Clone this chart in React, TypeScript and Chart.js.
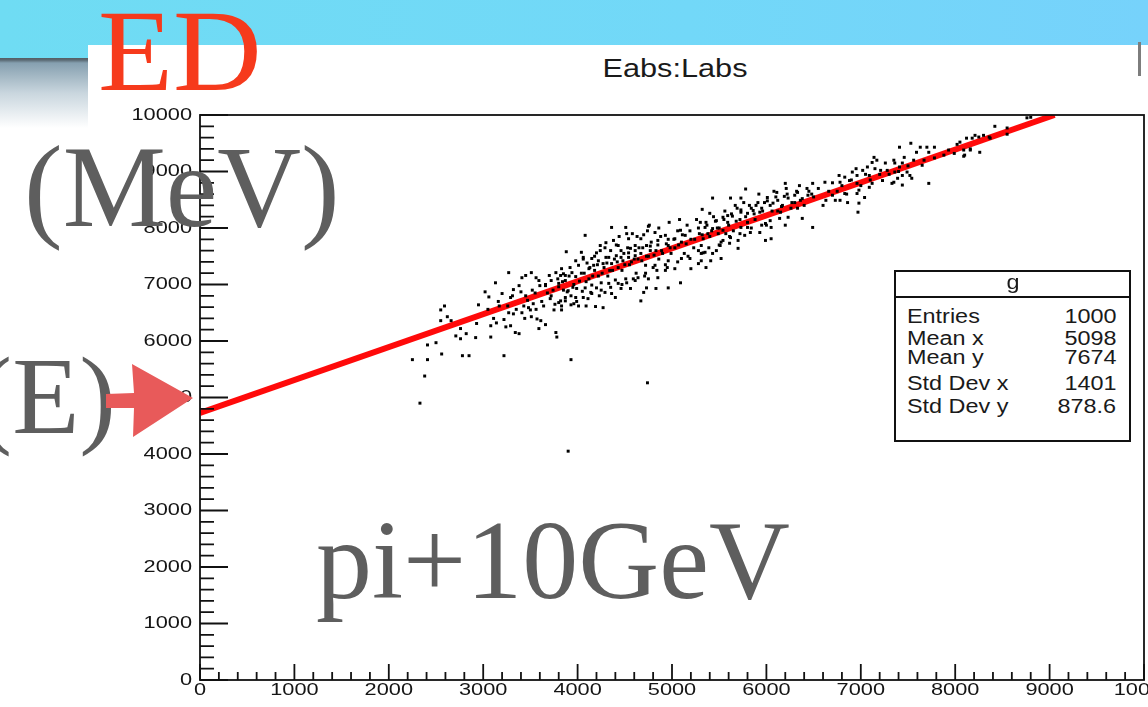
import React, { useEffect, useRef } from "react";
import { Chart, registerables } from "chart.js";

Chart.register(...registerables);

// Eabs (y, MeV) versus Labs (x) for 10 GeV pi+ events, as [Labs, Eabs]
const tailPoints: number[][] = [
  [2250, 5670], [2410, 5670], [2380, 5380], [2330, 4900], [2560, 5770], [2500, 5970],
  [2410, 5930], [2780, 5740], [2850, 5740], [3220, 5740], [3930, 5670], [3900, 4050],
  [4740, 5260],
];

const coreLeftPoints: number[][] = [
  [2590, 6620], [2550, 6550], [2620, 6430], [2550, 6360], [2660, 6360], [2760, 6220],
  [2820, 6130], [2710, 6090], [2760, 6040], [2920, 6060], [2930, 6310], [2950, 6640],
  [3020, 6870], [3060, 6780], [3130, 7030], [3080, 6270], [3080, 6070], [3140, 6320],
  [3170, 6620], [3200, 6840], [3240, 6250], [3290, 6270], [3340, 6150], [3380, 6130],
  [3270, 6500], [3320, 6480], [3290, 6770], [3320, 6910], [3380, 6980], [3270, 7210],
  [3410, 7120], [3450, 7160], [3410, 6500], [3430, 6620], [3480, 6590], [3530, 6660],
  [3510, 6430], [3570, 6390], [3610, 6360], [3590, 6220], [3660, 6290], [3770, 6150],
  [3780, 6070], [3750, 6550], [3710, 6750], [3830, 6550], [3800, 6680], [3870, 6710],
  [3930, 6800], [3960, 6660], [3660, 6980], [3720, 7070], [3800, 7020], [3870, 7070],
  [3590, 7070], [3560, 7120], [3510, 7210], [3770, 7210], [3850, 7190],
  [3050, 6560], [3110, 6400], [3160, 6700], [3220, 6380], [3260, 6620], [3310, 6800],
  [3350, 6560], [3400, 6870], [3440, 6400], [3470, 6720], [3520, 6900], [3560, 6560],
  [3600, 6980], [3640, 6620], [3680, 6850], [3700, 7160], [3740, 6900], [3760, 6650],
  [3800, 6960], [3840, 7050], [3890, 6870], [3920, 7300], [3950, 6950], [3980, 7140],
  [3990, 6700], [3450, 6800], [3500, 6550], [3550, 6850], [3620, 6700], [3660, 7000],
  [3720, 6800], [3790, 7100], [3850, 6900], [3910, 7150], [3960, 7000],
];

const coreMidPoints: number[][] = [
  [3830, 6620], [3930, 6640], [4010, 6620], [4090, 6620], [4190, 6610], [4270, 6590],
  [4360, 6840], [4400, 6770], [4460, 6930], [4560, 6930], [4670, 6710], [4700, 6860],
  [4730, 6940], [4830, 6930], [4960, 6940], [5090, 7030], [4610, 7070], [4640, 7120],
  [4520, 7030], [4430, 7020], [4330, 7020], [4250, 7030], [4200, 6940], [4140, 6860],
  [4060, 6770], [3980, 6770], [3870, 6770], [3900, 6890], [3990, 6930], [4080, 6940],
  [4150, 6840], [4290, 6860], [4750, 7100], [4850, 7120], [4930, 7250], [5030, 7280],
  [5200, 7280], [5280, 7370], [5190, 7460], [5310, 7550], [5100, 7460], [4960, 7420],
  [4820, 7340], [4720, 7340], [4080, 7870], [3880, 7580], [4040, 7570], [4060, 7480],
  [3980, 7420], [4150, 7460], [4240, 7600], [4240, 7690], [4300, 7740], [4380, 7780],
  [4430, 7690], [4460, 7600], [4540, 7810], [4560, 7640], [4610, 7690], [4670, 7810],
  [4730, 7690], [4770, 7600], [4820, 7920], [4850, 7780], [4930, 7870], [4960, 7690],
  [5030, 7810], [5090, 7960], [5140, 7870], [4360, 8010], [4510, 8010], [4750, 8030],
  [3830, 7280], [3870, 7160], [3940, 7210], [4010, 7340], [4120, 7280], [4170, 7340],
  [4220, 7420], [4270, 7370], [4330, 7480], [4360, 7370], [4410, 7510], [4480, 7420],
  [4540, 7480], [4610, 7510], [4670, 7550], [3820, 7160], [3820, 6710], [4760, 8050],
  [4020, 7060], [4050, 6880], [4070, 7200], [4100, 7380], [4120, 7100], [4150, 6990],
  [4180, 7250], [4200, 7560], [4220, 7150], [4250, 6900], [4280, 7300], [4300, 7480],
  [4320, 7150], [4350, 7600], [4370, 7250], [4400, 7080], [4420, 7400], [4440, 7850],
  [4470, 7250], [4490, 7550], [4510, 7100], [4530, 7650], [4550, 7350], [4580, 7900],
  [4600, 7450], [4620, 7200], [4650, 7650], [4680, 7420], [4700, 7880], [4720, 7200],
  [4750, 7500], [4780, 7750], [4800, 7300], [4830, 7600], [4860, 7450], [4880, 7850],
  [4900, 7550], [4930, 7350], [4960, 7800], [4990, 7550],
  [4040, 7200], [4090, 7050], [4130, 7300], [4160, 7150], [4210, 7350], [4260, 7200],
  [4310, 7380], [4340, 7250], [4390, 7450], [4430, 7300], [4460, 7480], [4500, 7350],
  [4540, 7560], [4570, 7400], [4610, 7600], [4640, 7450], [4690, 7650], [4730, 7500],
  [4770, 7680], [4810, 7520], [4850, 7700], [4890, 7600], [4940, 7720], [4980, 7650],
  [4060, 7450], [4180, 7500], [4290, 7650], [4410, 7700], [4520, 7900], [4630, 7850],
  [4740, 7950], [4860, 8000], [4970, 8100], [4110, 6750], [4230, 6800], [4350, 6950],
  [4470, 7000], [4590, 7100], [4710, 7150], [4840, 7250], [4950, 7300],
];

const coreRightPoints: number[][] = [
  [5430, 8530], [5620, 8530], [5730, 8530], [5780, 8690], [5320, 8330], [5400, 8260],
  [5470, 8130], [5540, 8190], [5590, 8220], [5640, 8210], [5670, 8400], [5730, 8280],
  [5800, 8260], [5860, 8310], [5890, 8400], [5930, 8280], [5980, 8450], [6010, 8540],
  [6070, 8440], [6120, 8490], [6110, 8630], [6190, 8560], [6230, 8530], [6200, 8790],
  [6300, 8580], [6330, 8630], [6360, 8490], [6440, 8580], [6490, 8790], [6620, 8810],
  [6630, 8490], [6700, 8580], [6730, 8490], [6780, 8490], [6830, 8610], [6490, 8010],
  [6380, 8170], [6230, 8190], [6140, 8170], [6040, 8130], [6050, 8010], [5990, 7780],
  [6050, 7810], [5930, 7920], [5830, 7920], [5800, 8010], [5730, 8010], [5770, 7870],
  [5700, 7780], [5700, 7640], [5620, 7830], [5610, 7730], [5540, 7780], [5510, 7690],
  [5470, 7600], [5430, 7550], [5350, 7570], [5310, 7690], [5330, 7810], [5380, 7900],
  [5430, 7990], [5490, 7900], [5540, 7960], [5350, 8010], [5300, 8100], [5310, 7420],
  [5360, 7300], [5410, 7420], [5520, 7460], [5570, 7900], [5990, 8080], [6150, 8280],
  [6330, 8350], [6200, 8050],
  [5030, 7650], [5060, 7950], [5100, 7750], [5130, 7550], [5160, 8050], [5200, 7800],
  [5230, 7650], [5260, 8150], [5290, 7900], [5330, 7560], [5360, 8100], [5400, 7850],
  [5440, 8200], [5480, 8000], [5520, 7750], [5560, 8300], [5600, 8050], [5650, 7950],
  [5690, 8350], [5720, 8150], [5760, 8450], [5800, 8100], [5840, 8350], [5880, 8150],
  [5920, 8600], [5960, 8300], [6000, 8050], [6040, 8400], [6080, 8650], [6120, 8300],
  [6170, 8400], [6210, 8700], [6260, 8350], [6300, 8450], [6350, 8750], [6400, 8400],
  [6450, 8650], [6500, 8550],
  [5020, 7800], [5070, 7700], [5110, 7880], [5150, 7720], [5190, 7950], [5240, 7800],
  [5280, 8000], [5320, 7880], [5370, 8050], [5420, 7950], [5460, 8120], [5500, 8000],
  [5550, 8150], [5590, 8100], [5630, 8250], [5680, 8120], [5730, 8320], [5780, 8200],
  [5820, 8400], [5870, 8250], [5910, 8450], [5950, 8350], [6010, 8480], [6060, 8300],
  [6100, 8550], [6160, 8380], [6220, 8600], [6270, 8450], [6320, 8650], [6380, 8520],
  [6430, 8700], [6480, 8600], [5080, 8150], [5060, 7400], [5170, 7500], [5280, 7600],
  [5390, 7650], [5500, 7700], [5610, 7850], [5720, 7900], [5840, 8000], [5950, 8050],
];

const upperPoints: number[][] = [
  [7410, 9430], [7530, 9500], [7630, 9430], [7700, 9430], [7780, 9430], [7590, 9340],
  [7720, 9340], [7140, 9250], [7170, 9200], [7120, 9160], [7360, 9150], [7440, 9150],
  [7410, 9080], [7070, 9080], [7020, 9020], [6960, 8930], [6910, 8990], [6830, 8900],
  [6770, 8930], [6780, 8810], [6880, 8840], [6960, 8790], [7090, 8930], [7210, 9020],
  [7280, 9020], [7360, 8990], [7490, 8990], [7520, 8930], [7540, 8880], [7440, 8930],
  [7390, 8880], [7350, 8810], [7330, 8790], [7440, 8760], [7230, 8840], [7120, 8790],
  [7090, 8720], [6980, 8670], [6960, 8610], [7040, 8540], [6980, 8440], [6860, 8450],
  [6970, 8280], [7720, 8790], [7650, 9110], [7670, 9200], [7780, 9240], [7880, 9290],
  [7930, 9380], [7990, 9320], [8020, 9480], [8100, 9290], [8160, 9380], [8260, 9340],
  [8090, 9380], [8050, 9520], [8120, 9590], [8180, 9590], [8210, 9640], [8250, 9610],
  [8300, 9640], [8360, 9610], [8370, 9590], [8420, 9800], [8550, 9770], [8550, 9660],
  [8760, 9950], [8800, 9960], [8090, 9270], [8160, 9400],
  [6550, 8700], [6600, 8400], [6660, 8650], [6700, 8800], [6750, 8650], [6800, 8750],
  [6850, 8600], [6900, 8850], [6950, 9050], [7000, 8750], [7050, 8950], [7100, 8850],
  [7150, 9050], [7200, 8950], [7260, 9150], [7300, 8950], [7350, 9200], [7400, 9000],
  [7460, 9250], [7500, 9100], [7560, 9200],
];

// straight-line fit drawn across the frame
const fitLabs = [0, 9052];
const fitEabs = [4726, 10000];

// statistics box
const statTitle = "g";
const statNames = ["Entries", "Mean x", "Mean y", "Std Dev x", "Std Dev y"];
const statValues = ["1000", "5098", "7674", "1401", "878.6"];

const W = 1148;
const H = 707;
const SANS = '"Liberation Sans", Arial, Helvetica, sans-serif';
const SERIF = '"Liberation Serif", "Times New Roman", Times, serif';
const SANS_ASC = 0.8465;
const SERIF_ASC = 0.8375;

type LabelProps = {
  text: string;
  x: number;
  base: number;
  size: number;
  family: string;
  asc: number;
  color: string;
  align?: "left" | "right" | "center";
  sx?: number;
};

function Label({ text, x, base, size, family, asc, color, align = "left", sx = 1 }: LabelProps) {
  const style: React.CSSProperties = {
    position: "absolute",
    top: base - asc * size,
    fontSize: size,
    lineHeight: `${size}px`,
    fontFamily: family,
    color,
    whiteSpace: "nowrap",
    transform: `scaleX(${sx})`,
  };
  if (align === "left") {
    style.left = x;
    style.transformOrigin = "left top";
  } else if (align === "right") {
    style.right = W - x;
    style.transformOrigin = "right top";
  } else {
    style.left = x - 400;
    style.width = 800;
    style.textAlign = "center";
    style.transformOrigin = "center top";
  }
  return <div style={style}>{text}</div>;
}

// frame, inward ticks and stretched tick labels in the ROOT style
const rootAxesPlugin = {
  id: "rootAxes",
  afterDraw(chart: any) {
    const { ctx, chartArea: a } = chart;
    const xs = chart.scales.x;
    const ys = chart.scales.y;
    ctx.save();
    ctx.strokeStyle = "#111";
    ctx.lineWidth = 1.8;
    ctx.strokeRect(a.left, a.top, a.right - a.left, a.bottom - a.top);
    ctx.lineWidth = 1.8;
    ctx.beginPath();
    for (let v = 0; v <= 10000; v += 200) {
      const major = v % 1000 === 0;
      const py = ys.getPixelForValue(v);
      ctx.moveTo(a.left, py);
      ctx.lineTo(a.left + (major ? 28 : 14), py);
      const px = xs.getPixelForValue(v);
      ctx.moveTo(px, a.bottom);
      ctx.lineTo(px, a.bottom - (major ? 16 : 8));
    }
    ctx.stroke();

    ctx.fillStyle = "#151515";
    ctx.font = `17px ${SANS}`;
    ctx.textBaseline = "middle";
    ys.ticks.forEach((t: any) => {
      const py = ys.getPixelForValue(t.value);
      ctx.save();
      ctx.translate(a.left - 8, py);
      ctx.scale(1.28, 1);
      ctx.textAlign = "right";
      ctx.fillText(String(t.value), 0, 0);
      ctx.restore();
    });
    xs.ticks.forEach((t: any) => {
      const px = xs.getPixelForValue(t.value);
      ctx.save();
      ctx.translate(px, a.bottom + 10);
      ctx.scale(1.28, 1);
      ctx.textAlign = "center";
      ctx.fillText(String(t.value), 0, 0);
      ctx.restore();
    });
    ctx.restore();
  },
};

function toXY(list: number[][]) {
  return list.map(([x, y]) => ({ x, y }));
}

function ScatterPlot() {
  const ref = useRef<HTMLCanvasElement | null>(null);

  useEffect(() => {
    if (!ref.current) return;
    const events = [
      ...toXY(tailPoints),
      ...toXY(coreLeftPoints),
      ...toXY(coreMidPoints),
      ...toXY(coreRightPoints),
      ...toXY(upperPoints),
    ];
    const fit = fitLabs.map((x, i) => ({ x, y: fitEabs[i] }));

    const chart = new Chart(ref.current, {
      type: "scatter",
      data: {
        datasets: [
          {
            label: "Eabs:Labs",
            data: events,
            pointStyle: "rect",
            pointRadius: 2.1,
            pointBorderWidth: 0,
            pointBackgroundColor: "#000",
            borderWidth: 0,
          },
          {
            label: "fit",
            data: fit,
            showLine: true,
            borderColor: "#ff0a0a",
            borderWidth: 6,
            pointRadius: 0,
            clip: 0,
          } as any,
        ],
      },
      options: {
        responsive: false,
        maintainAspectRatio: false,
        animation: false,
        events: [],
        layout: { padding: { left: 0, top: 115, right: 3, bottom: 0 } },
        plugins: {
          legend: { display: false },
          title: { display: false },
          tooltip: { enabled: false },
        },
        scales: {
          x: {
            type: "linear",
            min: 0,
            max: 10000,
            ticks: { display: false, stepSize: 1000 },
            grid: { display: false },
            border: { display: false },
            afterFit(s: any) {
              s.height = 27;
              s.paddingLeft = 0;
              s.paddingRight = 0;
            },
          },
          y: {
            type: "linear",
            min: 0,
            max: 10000,
            ticks: { display: false, stepSize: 1000 },
            grid: { display: false },
            border: { display: false },
            afterFit(s: any) {
              s.width = 200;
              s.paddingTop = 0;
              s.paddingBottom = 0;
            },
          },
        },
      },
      plugins: [rootAxesPlugin],
    });
    return () => chart.destroy();
  }, []);

  return (
    <canvas
      ref={ref}
      width={W}
      height={H}
      style={{ position: "absolute", left: 0, top: 0, width: W, height: H, display: "block" }}
    />
  );
}

function StatsBox() {
  const left = 894;
  const top = 270;
  const right = 1131;
  const bottom = 442;
  const rowBase = [323, 345, 364, 390, 413];
  return (
    <>
      <div
        style={{
          position: "absolute",
          left,
          top,
          width: right - left,
          height: bottom - top,
          boxSizing: "border-box",
          border: "2px solid #111",
          background: "#fff",
        }}
      />
      <div
        style={{ position: "absolute", left, top: 296, width: right - left, height: 2, background: "#111" }}
      />
      <Label text={statTitle} x={1013} base={289} size={20} family={SANS} asc={SANS_ASC} color="#1a1a1a" align="center" sx={1.17} />
      {statNames.map((n, i) => (
        <Label key={n} text={n} x={907} base={rowBase[i]} size={20} family={SANS} asc={SANS_ASC} color="#1a1a1a" sx={1.17} />
      ))}
      {statValues.map((v, i) => (
        <Label key={i} text={v} x={1116} base={rowBase[i]} size={20} family={SANS} asc={SANS_ASC} color="#1a1a1a" align="right" sx={1.17} />
      ))}
    </>
  );
}

export default function App() {
  const gray = "#5e5e5e";
  return (
    <div
      style={{
        position: "fixed",
        left: 0,
        top: 0,
        width: W,
        height: H,
        overflow: "hidden",
        background: "#fff",
      }}
    >
      {/* slide header band */}
      <div
        style={{
          position: "absolute",
          left: 0,
          top: 0,
          width: W,
          height: 58,
          background: "linear-gradient(90deg, #6fdcf3 0%, #72d8f8 60%, #76d2fb 100%)",
        }}
      />
      <div
        style={{
          position: "absolute",
          left: 0,
          top: 58,
          width: 88,
          height: 70,
          background: "linear-gradient(180deg, #555d63 0px, #5a6a74 2px, #86a0b0 5px, #c9d6de 35px, #ffffff 70px)",
        }}
      />
      {/* plot panel */}
      <div style={{ position: "absolute", left: 88, top: 45, width: W - 88, height: H - 45, background: "#fff" }} />
      <div style={{ position: "absolute", left: 1138, top: 42, width: 3, height: 34, background: "#7d7d7d" }} />

      <Label text="Eabs:Labs" x={675} base={77} size={26} family={SANS} asc={SANS_ASC} color="#1a1a1a" align="center" sx={1.18} />

      <ScatterPlot />
      <StatsBox />

      {/* slide annotations */}
      <Label text="ED" x={98} base={90} size={116} family={SERIF} asc={SERIF_ASC} color="#f63a1c" sx={1.06} />
      <Label text="(MeV)" x={24} base={226} size={116} family={SERIF} asc={SERIF_ASC} color={gray} />
      <Label text="(E)" x={116} base={433} size={110} family={SERIF} asc={SERIF_ASC} color={gray} align="right" />
      <Label text="pi+10GeV" x={316} base={598} size={112} family={SERIF} asc={SERIF_ASC} color={gray} />
      <svg
        width={W}
        height={H}
        style={{ position: "absolute", left: 0, top: 0, pointerEvents: "none" }}
      >
        <path
          d="M106,394 L134,393 L132,364 L193,398 L133,437 L134,408 L106,408 Z"
          fill="#e85a5a"
        />
      </svg>
    </div>
  );
}
